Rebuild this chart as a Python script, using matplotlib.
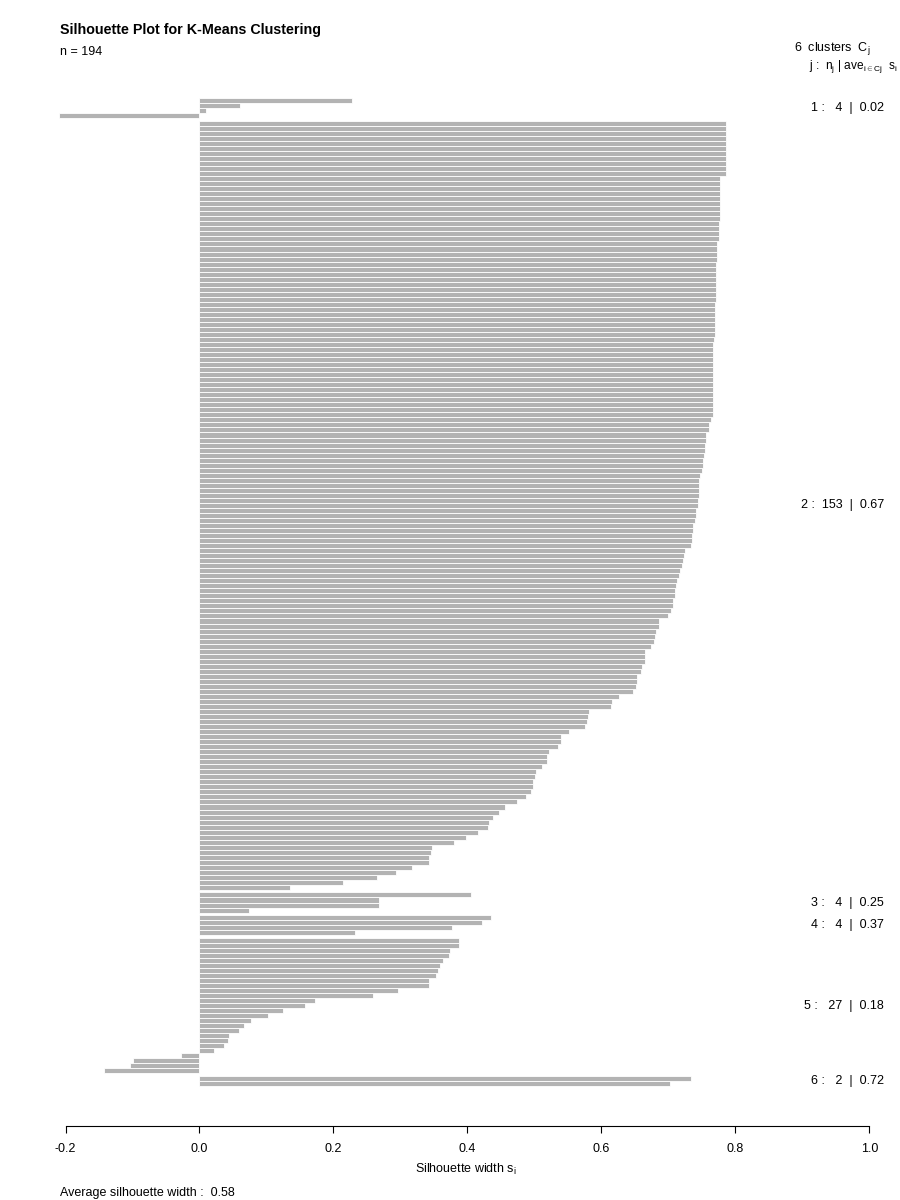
import matplotlib
matplotlib.use('Agg')
import matplotlib.pyplot as plt
import numpy as np

plt.rcParams['font.family'] = ['Liberation Sans', 'DejaVu Sans']
plt.rcParams['mathtext.fontset'] = 'custom'
plt.rcParams['mathtext.rm'] = 'Liberation Sans'
plt.rcParams['mathtext.it'] = 'Liberation Sans:italic'

# ---------------- data ----------------
c1 = [0.2281, 0.0604, 0.0092, -0.2092]
c2 = [
    0.786, 0.786, 0.786, 0.786, 0.786, 0.786, 0.786, 0.786, 0.786, 0.786, 0.786,
    0.777, 0.777, 0.777, 0.777, 0.777, 0.777, 0.777, 0.777, 0.777,
    0.775, 0.775, 0.775, 0.775,
    0.773, 0.773, 0.773, 0.773,
    0.771, 0.771, 0.771, 0.771, 0.771, 0.771, 0.771, 0.771,
    0.770, 0.770, 0.770,
    0.769, 0.769, 0.769, 0.769,
    0.768, 0.767,
    0.766, 0.766, 0.766, 0.766, 0.766, 0.766, 0.766, 0.766, 0.766, 0.766, 0.766, 0.766, 0.766, 0.766,
    0.763, 0.761, 0.761, 0.756, 0.756, 0.755, 0.754, 0.753, 0.752, 0.752, 0.7495, 0.7475,
    0.7455, 0.7455, 0.7455, 0.7455, 0.744, 0.744, 0.7416, 0.7406, 0.739, 0.737, 0.736, 0.7356, 0.7346, 0.7336,
    0.7246, 0.7226, 0.7211, 0.7196, 0.7176, 0.716, 0.712, 0.7116, 0.7096, 0.709, 0.707, 0.7065, 0.703, 0.6986,
    0.686, 0.686, 0.682, 0.6796, 0.679, 0.674, 0.6655, 0.6655, 0.6654,
    0.6604, 0.6585, 0.6535, 0.6525, 0.651, 0.647, 0.6266, 0.6157, 0.6137,
    0.5809, 0.5804, 0.579, 0.575, 0.551, 0.5396, 0.5396, 0.535, 0.5216, 0.5186,
    0.5182, 0.5112, 0.5027, 0.5007, 0.4978, 0.4973, 0.4948, 0.4878, 0.4734, 0.456,
    0.4475, 0.4385, 0.4316, 0.4301, 0.4157, 0.3973, 0.3803, 0.3475, 0.3455, 0.3425,
    0.3425, 0.3167, 0.2933, 0.2645, 0.2137, 0.1351,
]
c3 = [0.4047, 0.2679, 0.2674, 0.0744]
c4 = [0.4346, 0.4211, 0.3774, 0.2316]
c5 = [0.3868, 0.3868, 0.3739, 0.3724, 0.3634, 0.359, 0.356, 0.3525, 0.3425, 0.3425,
      0.2968, 0.259, 0.172, 0.1575, 0.1251, 0.1022, 0.0774, 0.0669, 0.0585, 0.0445,
      0.042, 0.036, 0.0216, -0.0281, -0.0997, -0.1042, -0.1425]
c6 = [0.7336, 0.7025]

clusters = [c1, c2, c3, c4, c5, c6]
cluster_labels = ["1 :   4  |  0.02", "2 :  153  |  0.67", "3 :   4  |  0.25",
                  "4 :   4  |  0.37", "5 :   27  |  0.18", "6 :   2  |  0.72"]
xticks = [-0.2, 0.0, 0.2, 0.4, 0.6, 0.8, 1.0]
xticklabels = ["-0.2", "0.0", "0.2", "0.4", "0.6", "0.8", "1.0"]
title = "Silhouette Plot for K-Means Clustering"
n_text = "n = 194"
avg_text = "Average silhouette width :  0.58"

# ---------------- figure ----------------
W, H = 900, 1200
FS = 9.0
fig = plt.figure(figsize=(9, 12), dpi=100)
ax_bottom_px, ax_top_px = 1126, 90
ax = fig.add_axes([0, 1 - ax_bottom_px / H, 1, (ax_bottom_px - ax_top_px) / H])

bar_color = '#B3B3B3'
pos = 0.0
for ci, vals in enumerate(clusters):
    if ci > 0:
        pos += 0.5
    ys = pos + np.arange(len(vals))
    ax.barh(ys, vals, height=1.0, left=0, color=bar_color,
            edgecolor='white', linewidth=0.6)
    ax.text(1.0216, ys.mean(), cluster_labels[ci], ha='right', va='center',
            fontsize=FS)
    pos = ys[-1] + 1

# scales: unit 0 centred at px 100.7, 5.027 px per bar
u0, su = 100.7, 5.027
ax.set_ylim((ax_bottom_px - u0) / su, (ax_top_px - u0) / su)
ax.set_xlim(-199.5 / 670, (W - 199.5) / 670)

for s in ['top', 'right', 'left']:
    ax.spines[s].set_visible(False)
ax.spines['bottom'].set_bounds(-0.2, 1.0)
ax.spines['bottom'].set_linewidth(0.8)
ax.set_yticks([])
ax.set_xticks(xticks)
ax.set_xticklabels(xticklabels, fontsize=FS)
ax.tick_params(axis='x', direction='out', length=5, width=0.8, pad=7)
ax.set_facecolor('none')

ax.set_xlabel(r"Silhouette width $\mathrm{s_i}$", fontsize=FS)
ax.xaxis.label.set_va('center')
ax.xaxis.set_label_coords(466 / W, -(1169 - ax_bottom_px) / (ax_bottom_px - ax_top_px))

fig.text(60 / W, 1 - 30 / H, title, fontsize=10.3, fontweight='bold', va='center', ha='left')
fig.text(60 / W, 1 - 52 / H, n_text, fontsize=FS, va='center', ha='left')
fig.text(870 / W, 1 - 48 / H, r"6  clusters  $\mathrm{C_j}$", fontsize=FS, va='center', ha='right')
fig.text(897 / W, 1 - 66 / H, r"j :  $\mathrm{n_j}$ | $\mathrm{ave}_{\mathrm{i\in Cj}}$  $\mathrm{s_i}$",
         fontsize=8.6, va='center', ha='right')
fig.text(60 / W, 1 - 1193 / H, avg_text, fontsize=FS, va='center', ha='left')

fig.savefig('out.png', dpi=100)
